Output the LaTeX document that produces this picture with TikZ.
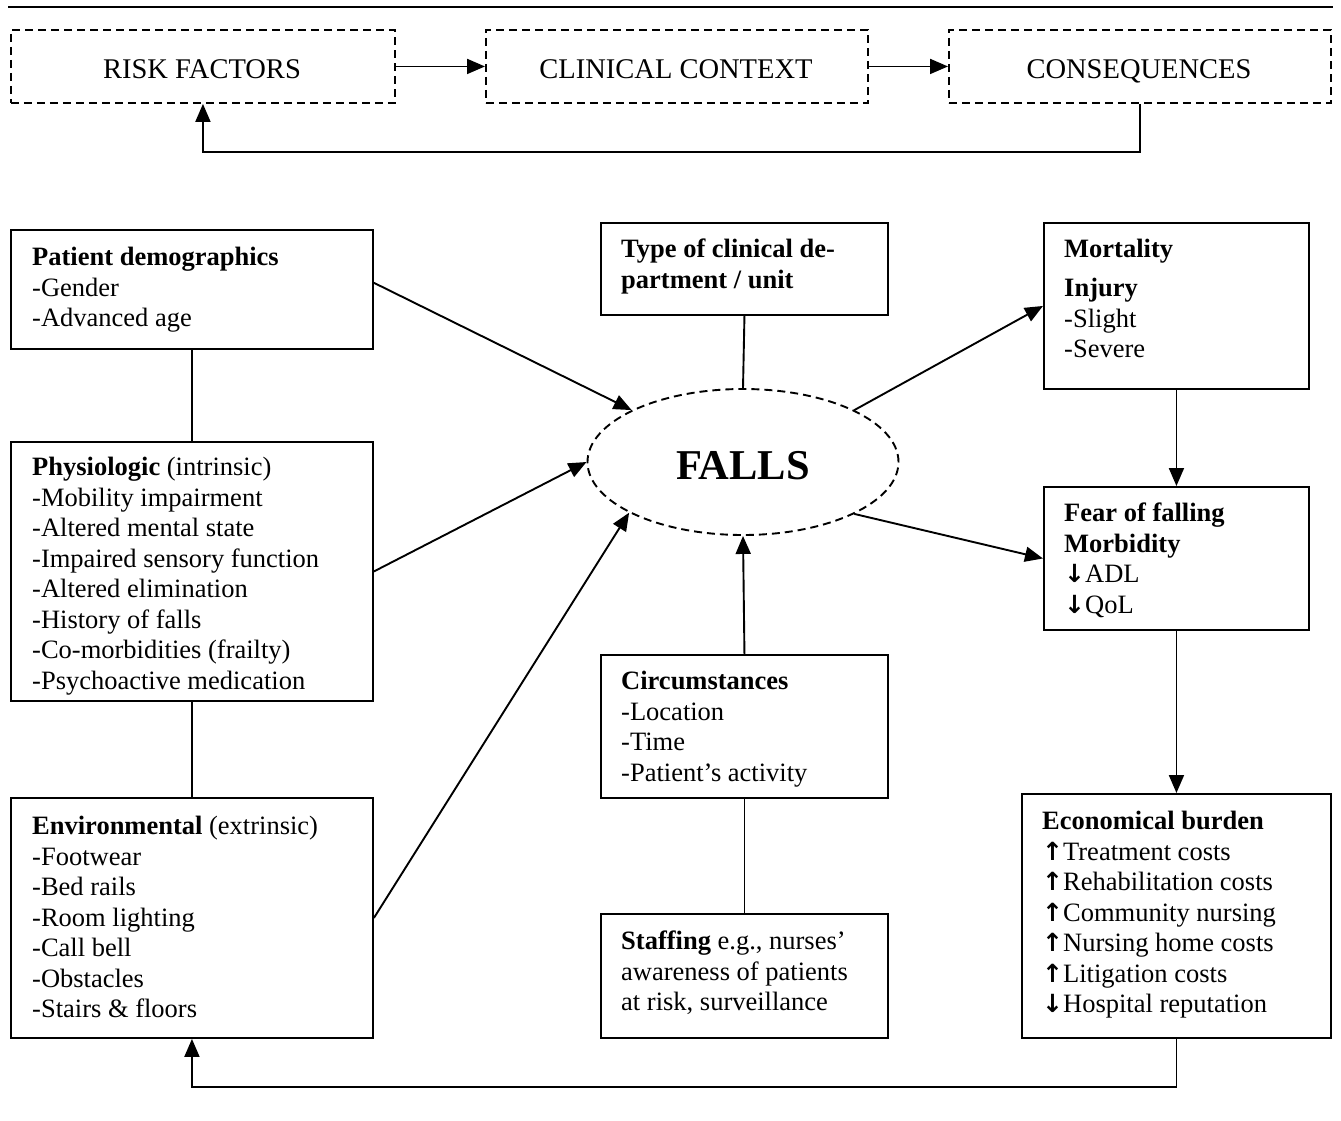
\documentclass[tikz,border=0pt]{standalone}
\usepackage{fontspec}
\setmainfont{Liberation Serif}
\newfontfamily\arrfont{DejaVu Sans}
\usetikzlibrary{arrows.meta,shapes.geometric,calc}
\newcommand\fsbody{\fontsize{26.5}{30.5}\selectfont}
\newcommand\upa{{\arrfont\bfseries\fontsize{25}{30.5}\selectfont ↑}}
\newcommand\dna{{\arrfont\bfseries\fontsize{25}{30.5}\selectfont ↓}}
\begin{document}
\begin{tikzpicture}[x=1pt,y=-1pt,
  lw/.style={line width=1.9pt},
  arr/.style={lw,-{Triangle[length=18pt,width=15pt]}},
  box/.style={draw,lw,anchor=north west,inner sep=0pt},
  dbox/.style={draw,lw,dash pattern=on 8pt off 5pt,anchor=north west,inner sep=0pt},
  toptxt/.style={anchor=base,inner sep=0pt,font=\fontsize{28.5}{31}\selectfont},
  txt/.style={anchor=north west,inner sep=0pt,align=left,font=\fsbody}]
\useasboundingbox (0,0) rectangle (1341,1120);
% top rule
\draw[lw] (8,7) -- (1333,7);
% top row
\node[dbox,minimum width=384pt,minimum height=73pt] (rf) at (10,29) {};
\node[dbox,minimum width=382pt,minimum height=73pt] (cc) at (485,29) {};
\node[dbox,minimum width=382pt,minimum height=73pt] (cq) at (948,29) {};
\node[toptxt] (rft) at (202,78) {RISK FACTORS};
\node[toptxt] (cct) at (676,78) {CLINICAL CONTEXT};
\node[toptxt] (cqt) at (1139,78) {CONSEQUENCES};
\draw[arr] (rf.east) -- (cc.west);
\draw[arr] (cc.east) -- (cq.west);
\draw[arr] (cq.south) -- ++(0,48) -| (rf.south);
% left column
\node[box,minimum width=362pt,minimum height=119pt] (pd) at (10,229) {};
\node[box,minimum width=362pt,minimum height=259pt] (ph) at (10,441) {};
\node[box,minimum width=362pt,minimum height=240pt] (env) at (10,797) {};
\node[txt] (pdt) at (32,247) {\textbf{Patient demographics}\\-Gender\\-Advanced age};
\node[txt] (pht) at (32,457) {\textbf{Physiologic} (intrinsic)\\-Mobility impairment\\-Altered mental state\\-Impaired sensory function\\-Altered elimination\\-History of falls\\-Co-morbidities (frailty)\\-Psychoactive medication};
\node[txt] (envt) at (32,816) {\textbf{Environmental} (extrinsic)\\-Footwear\\-Bed rails\\-Room lighting\\-Call bell\\-Obstacles\\-Stairs \& floors};
\draw[lw] (pd.south) -- (ph.north);
\draw[lw] (ph.south) -- (env.north);
% centre column
\node[box,minimum width=287pt,minimum height=92pt] (ty) at (600,222) {};
\node[txt] (tyt) at (621,239) {\textbf{Type of clinical de-}\\\textbf{partment / unit}};
\node[draw,lw,dash pattern=on 8pt off 5pt,ellipse,minimum width=311pt,minimum height=146pt,inner sep=0pt] (falls) at (743,462) {};
\node[font=\fontsize{42.5}{48}\selectfont\bfseries] (fallst) at (743,466) {FALLS};
\node[box,minimum width=287pt,minimum height=143pt] (ci) at (600,654) {};
\node[txt] (cit) at (621,671) {\textbf{Circumstances}\\-Location\\-Time\\-Patient’s activity};
\node[box,minimum width=287pt,minimum height=124pt] (st) at (600,913) {};
\node[txt] (stt) at (621,931) {\textbf{Staffing} e.g., nurses’\\awareness of patients\\at risk, surveillance};
\draw[lw] (ty.south) -- (falls.north);
\draw[arr] (ci.north) -- (falls.south);
\draw[lw] (ci.south) -- (st.north);
% right column
\node[box,minimum width=265pt,minimum height=166pt] (mo) at (1043,222) {};
\node[txt] (mot) at (1064,239) {\textbf{Mortality}\\[8.5pt]\textbf{Injury}\\-Slight\\-Severe};
\node[box,minimum width=265pt,minimum height=143pt] (fe) at (1043,486) {};
\node[txt] (fet) at (1064,503) {\textbf{Fear of falling}\\\textbf{Morbidity}\\\dna ADL\\\dna QoL};
\node[box,minimum width=309pt,minimum height=244pt] (ec) at (1021,793) {};
\node[txt] (ect) at (1042,811) {\textbf{Economical burden}\\\upa Treatment costs\\\upa Rehabilitation costs\\\upa Community nursing\\\upa Nursing home costs\\\upa Litigation costs\\\dna Hospital reputation};
\draw[arr] (mo.south) -- (fe.north);
\draw[arr] (fe.south) -- (ec.north);
\draw[arr] (ec.south) -- ++(0,48) -| (env.south);
% diagonal arrows
\draw[arr] ($(pd.north east)!0.445!(pd.south east)$) -- (falls.155);
\draw[arr] (ph.east) -- (falls.180);
\draw[arr] (env.east) -- (falls.204);
\draw[arr] (falls.25) -- (mo.west);
\draw[arr] (falls.335) -- (fe.west);
\end{tikzpicture}
\end{document}
